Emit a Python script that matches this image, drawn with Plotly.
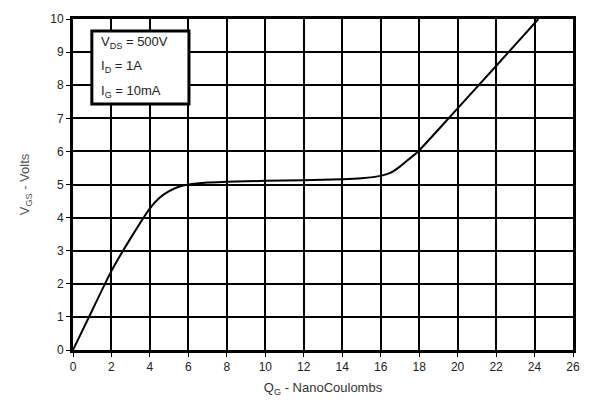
import plotly.graph_objects as go

qg = [0, 1, 2, 3, 4, 4.5, 5, 5.5, 6, 7, 8, 10, 12, 14, 15, 16, 16.5, 17, 17.5, 18, 20, 22, 24.2]
vgs = [0, 1.2, 2.39, 3.38, 4.28, 4.6, 4.8, 4.93, 5.0, 5.06, 5.08, 5.11, 5.13, 5.16, 5.19, 5.26, 5.35, 5.54, 5.78, 6.03, 7.3, 8.58, 10.0]
x_ticks = list(range(0, 27, 2))
y_ticks = list(range(0, 11, 1))
legend_lines = ["V<sub>DS</sub> = 500V", "I<sub>D</sub> = 1A", "I<sub>G</sub> = 10mA"]

fig = go.Figure()
fig.add_trace(go.Scatter(x=qg, y=vgs, mode="lines",
                         line=dict(color="black", width=2, shape="spline", smoothing=0.6),
                         showlegend=False, hoverinfo="skip"))

axis_common = dict(showgrid=True, gridcolor="black", gridwidth=1.5,
                   showline=True, linecolor="black", linewidth=3, mirror=True,
                   ticks="outside", ticklen=4, tickcolor="black", tickwidth=1,
                   zeroline=False, tickfont=dict(family="Liberation Sans, Arial", size=12, color="#222"))

fig.update_xaxes(range=[0, 26], tickvals=x_ticks,
                 title=dict(text="Q<sub>G</sub> - NanoCoulombs", font=dict(family="Liberation Sans, Arial", size=13, color="#333"), standoff=10),
                 **axis_common)
fig.update_yaxes(range=[0, 10], tickvals=y_ticks,
                 title=dict(text="V<sub>GS</sub> - Volts", font=dict(family="Liberation Sans, Arial", size=13, color="#555"), standoff=18),
                 **axis_common)

fig.add_shape(type="rect", xref="x", yref="y", x0=0.98, x1=6.03, y0=7.43, y1=9.64,
              line=dict(color="black", width=3), fillcolor="white", layer="above")
for i, t in enumerate(legend_lines):
    fig.add_annotation(x=1.35, y=9.3 - i * 0.75, xref="x", yref="y", text=t, showarrow=False,
                       xanchor="left", yanchor="middle",
                       font=dict(family="Liberation Sans, Arial", size=13, color="#222"))

fig.update_layout(width=592, height=409, margin=dict(l=73, r=15, t=15, b=59),
                  plot_bgcolor="white", paper_bgcolor="white")
fig.write_html("out.html")
